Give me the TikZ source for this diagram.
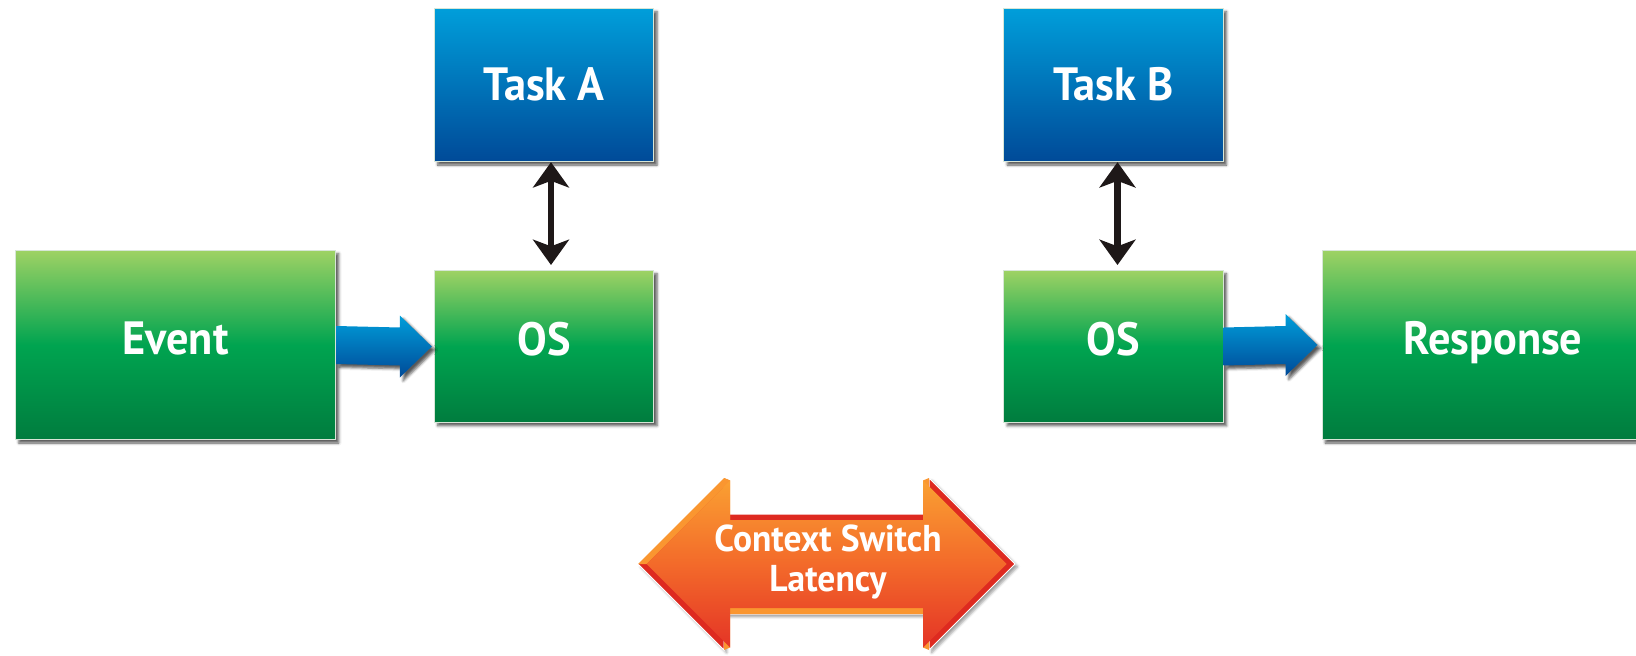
\documentclass[tikz,border=0pt]{standalone}
\usepackage{fontspec}
\setmainfont[FakeStretch=0.95]{PT Sans}
\usetikzlibrary{calc,arrows.meta,shadows.blur}

\definecolor{grntop}{RGB}{158,210,100}
\definecolor{grnmid}{RGB}{0,164,80}
\definecolor{grnbot}{RGB}{0,124,62}
\definecolor{blutop}{RGB}{0,158,218}
\definecolor{blubot}{RGB}{0,74,152}
\definecolor{orgtop}{RGB}{250,160,50}
\definecolor{orgmid}{RGB}{243,106,42}
\definecolor{orgbot}{RGB}{228,52,38}
\definecolor{orgedge}{RGB}{222,42,32}
\definecolor{orglite}{RGB}{250,150,48}

\tikzset{every picture/.style={line width=0.75pt}}
\tikzset{
  boxshadow/.style={blur shadow={shadow xshift=2.5pt,shadow yshift=-2.5pt,shadow blur radius=2pt,shadow opacity=65}},
  greenbox/.style={rectangle,draw={rgb, 255:red, 215; green, 230; blue, 215},line width=0.75pt,
    top color=grntop,bottom color=grnbot,middle color=grnmid,boxshadow,
    text=white,font=\fontsize{35}{38}\selectfont\bfseries,inner sep=0pt,text height=24pt,text depth=10pt},
  bluebox/.style={greenbox,top color=blutop,bottom color=blubot,middle color=blutop!50!blubot,text depth=0pt},
  bluearrow/.style={top color=blutop,bottom color=blubot,boxshadow},
  linkarrow/.style={line width=5pt,color={rgb, 255:red, 30; green, 24; blue, 24},shorten >=3.75pt,
    {Stealth[length=19pt,width=27pt,inset=5pt]}-{Stealth[length=19pt,width=27pt,inset=5pt]}}
}

\begin{document}
\begin{tikzpicture}[x=0.75pt,y=0.75pt,yscale=-1,xscale=1]
	\useasboundingbox (0,0) rectangle (1636,656);

	% Text Node
	\node [greenbox,minimum width=240pt,minimum height=142pt] (event) at (175.5,345) {Event};
	% Text Node
	\node [greenbox,minimum width=164.5pt,minimum height=114pt] (osA) at (544,346.5) {OS};
	% Text Node
	\node [bluebox,minimum width=164.5pt,minimum height=115pt] (taskA) at (544,85) {Task A};
	% Text Node
	\node [bluebox,minimum width=164.5pt,minimum height=115pt] (taskB) at (1113.5,85) {Task B};
	% Text Node
	\node [greenbox,minimum width=164.5pt,minimum height=114pt] (osB) at (1113.5,346.5) {OS};
	% Text Node
	\node [greenbox,minimum width=256.5pt,minimum height=142pt] (response) at (1493,345) {Response};

	% Straight Lines
	\draw [linkarrow] ([xshift=5.25pt]taskA.south) -- ([xshift=5.25pt]osA.north);
	\draw [linkarrow] ([xshift=3pt]taskB.south) -- ([xshift=3pt]osB.north);

	% Block arrows
	\shade [bluearrow] ($(event.east)+(0,-19)$) -- ($(osA.west)+(-34,-19)$) -- ($(osA.west)+(-34,-31)$) -- ($(osA.west)+(-2,0)$)
	  -- ($(osA.west)+(-34,31)$) -- ($(osA.west)+(-34,19)$) -- ($(event.east)+(0,19)$) -- cycle;
	\shade [bluearrow] ($(osB.east)+(0,-19)$) -- ($(response.west)+(-36,-19)$) -- ($(response.west)+(-36,-31)$) -- ($(response.west)+(-4,0)$)
	  -- ($(response.west)+(-36,31)$) -- ($(response.west)+(-36,19)$) -- ($(osB.east)+(0,19)$) -- cycle;

	% Double arrow, outer edge
	\fill [orgedge,draw=white,line width=0.75pt,blur shadow={shadow xshift=2pt,shadow yshift=-2pt,shadow opacity=40}]
	  (638,564) -- (724,478) -- (724,514) -- (929,514) -- (929,478) -- (1015,564)
	  -- (929,650) -- (929,614) -- (724,614) -- (724,650) -- cycle;
	% bevel facets
	\fill [orglite] (638,564) -- (724,478) -- (730,480.5) -- (646.5,564) -- cycle;
	\fill [orglite] (724,478) -- (724,514) -- (730,520) -- (730,480.5) -- cycle;
	\fill [orglite] (929,478) -- (929,514) -- (923,520) -- (923,480.5) -- cycle;
	\fill [orglite] (929,650) -- (929,614) -- (923,608) -- (923,647.5) -- cycle;
	\fill [orglite] (724,650) -- (724,614) -- (730,608) -- (730,647.5) -- cycle;
	\fill [orglite] (724,614) -- (929,614) -- (923,608) -- (730,608) -- cycle;
	% Double arrow, face
	\shade [top color=orgtop,bottom color=orgbot,middle color=orgmid]
	  (646.5,564) -- (730,480.5) -- (730,520) -- (923,520) -- (923,480.5) -- (1006.5,564)
	  -- (923,647.5) -- (923,608) -- (730,608) -- (730,647.5) -- cycle;
	% Text Node
	\node [text=white,font=\fontsize{28}{30}\selectfont\bfseries,align=center,inner sep=0pt] (latency) at (828,562) {Context Switch\\Latency};

\end{tikzpicture}
\end{document}
